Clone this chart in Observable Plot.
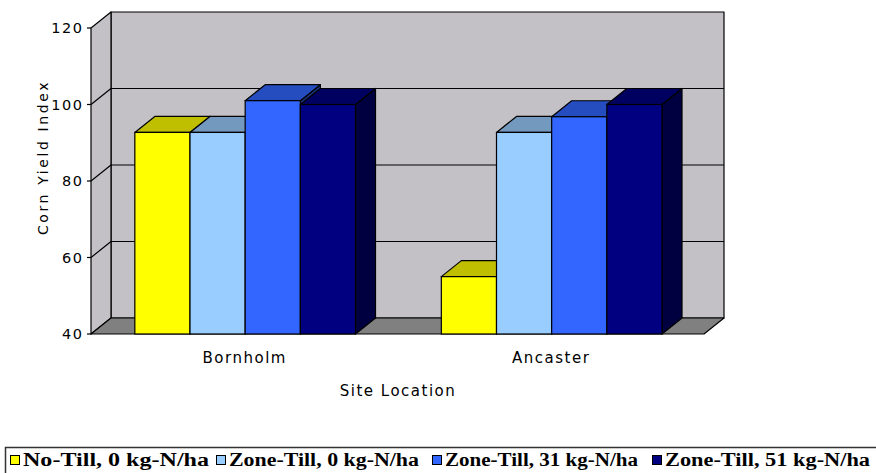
<!DOCTYPE html>
<html>
<head>
<meta charset="utf-8">
<script src="https://cdn.jsdelivr.net/npm/d3@7"></script>
<script src="https://cdn.jsdelivr.net/npm/@observablehq/plot@0.6"></script>
<style>
  html, body { margin: 0; padding: 0; background: #fff; overflow: hidden; }
  #chart svg, #legend svg { display: block; }
</style>
</head>
<body>
<div id="chart"></div>
<div id="legend"></div>
<script>
// Site locations and tillage / nitrogen treatments
const sites = ["Bornholm", "Ancaster"];
const treatments = ["No-Till, 0 kg-N/ha", "Zone-Till, 0 kg-N/ha", "Zone-Till, 31 kg-N/ha", "Zone-Till, 51 kg-N/ha"];

// Corn yield index per site (Bornholm, Ancaster)
const noTill0 = [92.7, 55.0];
const zoneTill0 = [92.7, 92.7];
const zoneTill31 = [101.0, 96.8];
const zoneTill51 = [100.0, 100.0];

const yTicks = [40, 60, 80, 100, 120];
const treatmentColors = ["#FFFF00", "#99CCFF", "#3366FF", "#000080"];

const seriesValues = [noTill0, zoneTill0, zoneTill31, zoneTill51];
const yMin = yTicks[0], yMax = yTicks[yTicks.length - 1];

// Layout of the grouped bars inside each site band (x units = one band per site)
const GROUP_START = 0.143, BAR_W = 0.18;
// Oblique projection offset for the depth of walls and bars (pixels)
const DX = 20, DY = -16;

const rows = [];
sites.forEach((site, si) => {
  treatments.forEach((t, ti) => {
    const x1 = si + GROUP_START + ti * BAR_W;
    rows.push({site, treatment: t, value: seriesValues[ti][si], x1, x2: x1 + BAR_W, color: treatmentColors[ti]});
  });
});

function shade(c, k) {
  const r = d3.rgb(c);
  return d3.rgb(r.r * k, r.g * k, r.b * k).formatHex();
}

// Walls, floor, and gridlines of the 3D frame
function frame3d(index, scales) {
  const {x, y} = scales;
  const x0 = x(0), x1 = x(sites.length);
  const yt = y(yMax), yb = y(yMin);
  const g = d3.create("svg:g").attr("stroke", "#000").attr("stroke-width", 1.2).attr("stroke-linejoin", "round");
  // back wall
  g.append("path").attr("fill", "#C3C1C5")
    .attr("d", `M${x0 + DX},${yt + DY}H${x1 + DX}V${yb + DY}H${x0 + DX}Z`);
  // left wall
  g.append("path").attr("fill", "#C3C1C5")
    .attr("d", `M${x0},${yt}L${x0 + DX},${yt + DY}V${yb + DY}L${x0},${yb}Z`);
  // floor
  g.append("path").attr("fill", "#808080")
    .attr("d", `M${x0},${yb}H${x1}L${x1 + DX},${yb + DY}H${x0 + DX}Z`);
  // gridlines across the left and back walls
  for (const v of yTicks.slice(1, -1)) {
    const yv = y(v);
    g.append("path").attr("fill", "none")
      .attr("d", `M${x0},${yv}L${x0 + DX},${yv + DY}H${x1 + DX}`);
  }
  // tick marks on the value axis
  for (const v of yTicks) {
    const yv = y(v);
    g.append("path").attr("d", `M${x0 - 4},${yv}H${x0}`);
  }
  return g.node();
}

// Top and side faces of each column, painted left to right
function barFaces(index, scales) {
  const {x, y} = scales;
  const yb = y(yMin);
  const g = d3.create("svg:g").attr("stroke", "#000").attr("stroke-width", 1.2).attr("stroke-linejoin", "round");
  const ordered = rows.slice().sort((a, b) => a.x1 - b.x1);
  for (const d of ordered) {
    const a = x(d.x1), b = x(d.x2), yv = y(d.value);
    g.append("path").attr("fill", shade(d.color, 0.5))
      .attr("d", `M${b},${yv}L${b + DX},${yv + DY}V${yb + DY}L${b},${yb}Z`);
    g.append("path").attr("fill", shade(d.color, 0.75))
      .attr("d", `M${a},${yv}H${b}L${b + DX},${yv + DY}H${a + DX}Z`);
  }
  return g.node();
}

const chart = Plot.plot({
  width: 876,
  height: 443,
  marginLeft: 91,
  marginRight: 172,
  marginTop: 28,
  marginBottom: 109,
  style: {fontFamily: "DejaVu Sans", fontSize: "14px", letterSpacing: "1.5px", color: "#000", background: "#fff"},
  x: {domain: [0, sites.length], axis: null},
  y: {domain: [yMin, yMax], axis: null},
  marks: [
    frame3d,
    barFaces,
    Plot.rect(rows, {x1: "x1", x2: "x2", y1: yMin, y2: "value", fill: "color", stroke: "#000", strokeWidth: 1.2}),
    Plot.text(yTicks, {y: d => d, text: d => String(d), frameAnchor: "left", textAnchor: "end", dx: -8, fontSize: 14.5, fill: "#000"}),
    Plot.text(sites, {x: (d, i) => i + 0.5, text: d => d, frameAnchor: "bottom", lineAnchor: "middle", dy: 24, fontSize: 15, fill: "#000"}),
    Plot.text(["Site Location"], {text: d => d, frameAnchor: "bottom", lineAnchor: "middle", textAnchor: "middle", dy: 57, fontSize: 15, fill: "#000"}),
    Plot.text(["Corn Yield Index"], {text: d => d, frameAnchor: "left", textAnchor: "middle", lineAnchor: "middle", rotate: -90, dx: -48, dy: -24, fontSize: 14, fill: "#000"})
  ]
});
// wider tracking on the value-axis title
d3.select(chart).selectAll("text").filter(function() { return this.textContent === "Corn Yield Index"; })
  .style("letter-spacing", "2.6px");
document.getElementById("chart").append(chart);

// Legend strip below the chart
const legendStarts = [10, 216, 432, 652];
const legendWidths = [186, 190, 193, 205];
const leg = d3.select("#legend").append("svg").attr("width", 876).attr("height", 30);
leg.append("rect").attr("x", 5.5).attr("y", 4.5).attr("width", 900).attr("height", 40)
  .attr("fill", "#fff").attr("stroke", "#333").attr("stroke-width", 1.5);
treatments.forEach((t, i) => {
  const x0 = legendStarts[i];
  leg.append("rect").attr("x", x0 + 0.5).attr("y", 12.5).attr("width", 9).attr("height", 9)
    .attr("fill", treatmentColors[i]).attr("stroke", "#000").attr("stroke-width", 1);
  leg.append("text").attr("x", x0 + 13).attr("y", 23)
    .attr("font-family", "Liberation Serif").attr("font-weight", "bold").attr("font-size", 18)
    .attr("textLength", legendWidths[i]).attr("lengthAdjust", "spacingAndGlyphs")
    .attr("fill", "#000").text(t);
});
</script>
</body>
</html>
